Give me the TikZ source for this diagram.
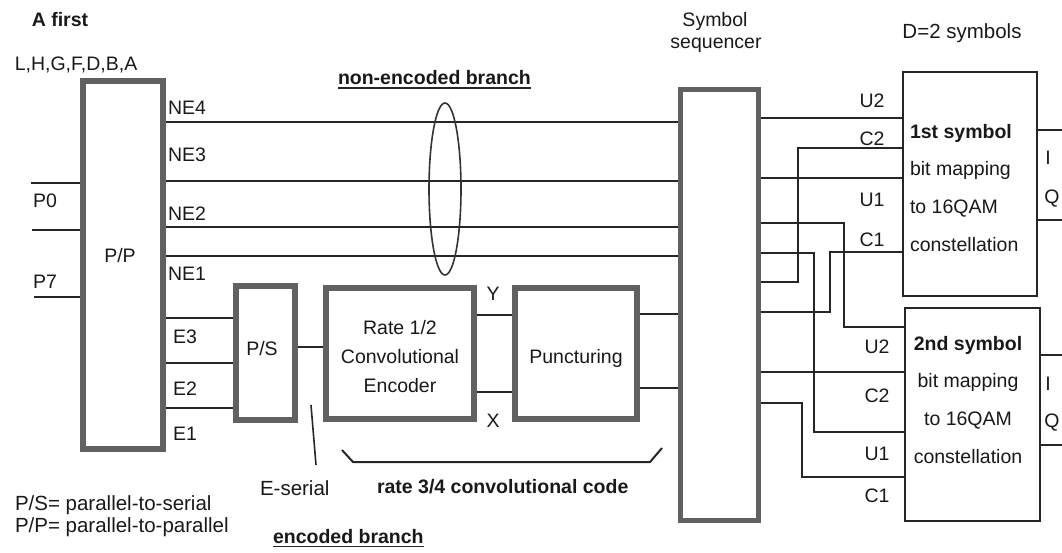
\documentclass[tikz,border=0pt]{standalone}
\usepackage{fontspec}
\setmainfont{Liberation Sans}
\begin{document}
\begin{tikzpicture}[x=1pt,y=-1pt,
  txt/.style={font=\fontsize{19.5}{23}\selectfont, text=black!90, inner sep=0pt, outer sep=0pt},
  btxt/.style={txt, font=\fontsize{19.5}{23}\selectfont\bfseries},
  ltxt/.style={txt, font=\fontsize{20.5}{23}\selectfont},
  thickbox/.style={draw=black!62, line width=6pt, fill=white, inner sep=0pt},
  thinbox/.style={draw=black!85, line width=2pt, fill=white, inner sep=0pt},
  wire/.style={draw=black!85, line width=2pt},
]
\useasboundingbox (0,0) rectangle (1062,553);

% ---------- boxes ----------
\node[thickbox, minimum width=80, minimum height=368] (pp) at (123,265) {};
\node[thickbox, minimum width=59, minimum height=134] (ps) at (265.5,353) {};
\node[thickbox, minimum width=148, minimum height=131] (rate) at (400,353.5) {};
\node[thickbox, minimum width=122, minimum height=131] (punc) at (576,353.5) {};
\node[thickbox, line width=5pt, minimum width=78, minimum height=430] (seq) at (719,305) {};
\node[thinbox, minimum width=134, minimum height=224] (m1) at (970,184) {};
\node[thinbox, minimum width=135, minimum height=213] (m2) at (972.5,414.5) {};

% ---------- free ends ----------
\coordinate (p0) at (31,183);
\coordinate (pm) at (32,230);
\coordinate (p7) at (34,297);
\coordinate (o1i) at (1062,130);
\coordinate (o1q) at (1062,220);
\coordinate (o2i) at (1062,355);
\coordinate (o2q) at (1062,445);

% ---------- wires ----------
\draw[wire] (p0) -- (pp.west |- p0);
\draw[wire] (pm) -- (pp.west |- pm);
\draw[wire] (p7) -- (pp.west |- p7);

\draw[wire] (pp.east |- 0,122) -- (seq.west |- 0,122);
\draw[wire] (pp.east |- 0,181) -- (seq.west |- 0,181);
\draw[wire] (pp.east |- 0,227) -- (seq.west |- 0,227);
\draw[wire] (pp.east |- 0,256) -- (seq.west |- 0,256);

\draw[wire] (pp.east |- 0,318) -- (ps.west |- 0,318);
\draw[wire] (pp.east |- 0,363) -- (ps.west |- 0,363);
\draw[wire] (pp.east |- 0,408) -- (ps.west |- 0,408);

\draw[wire] (ps.east |- 0,347) -- (rate.west |- 0,347);
\draw[wire] (rate.east |- 0,315) -- (punc.west |- 0,315);
\draw[wire] (rate.east |- 0,392) -- (punc.west |- 0,392);
\draw[wire] (punc.east |- 0,314) -- (seq.west |- 0,314);
\draw[wire] (punc.east |- 0,388) -- (seq.west |- 0,388);

% sequencer -> 1st symbol mapper
\draw[wire] (seq.east |- 0,118) -- (m1.west |- 0,118);
\draw[wire] (seq.east |- 0,282) -- (798,282) -- (798,148) -- (m1.west |- 0,148);
\draw[wire] (seq.east |- 0,178) -- (m1.west |- 0,178);
\draw[wire] (seq.east |- 0,312) -- (830,312) -- (830,252) -- (m1.west |- 0,252);
% sequencer -> 2nd symbol mapper
\draw[wire] (seq.east |- 0,223) -- (844,223) -- (844,327) -- (m2.west |- 0,327);
\draw[wire] (seq.east |- 0,372) -- (m2.west |- 0,372);
\draw[wire] (seq.east |- 0,253) -- (814,253) -- (814,432) -- (m2.west |- 0,432);
\draw[wire] (seq.east |- 0,403) -- (802,403) -- (802,477) -- (m2.west |- 0,477);

% outputs
\draw[wire] (m1.east |- o1i) -- (o1i);
\draw[wire] (m1.east |- o1q) -- (o1q);
\draw[wire] (m2.east |- o2i) -- (o2i);
\draw[wire] (m2.east |- o2q) -- (o2q);

% ellipse around the non-encoded lines
\draw[black!80, line width=1.6pt] (445,189) ellipse [x radius=16pt, y radius=86pt];

% bracket under encoder + puncturing
\coordinate (b1) at (342,450);
\coordinate (b2) at (353,462);
\coordinate (b3) at (650,462);
\coordinate (b4) at (662,448);
\draw[wire] (b1) -- (b2) -- (b3) -- (b4);

% E-serial pointer
\coordinate (e1) at (311,405);
\coordinate (e2) at (316,465);
\draw[wire, line width=1.6pt] (e1) -- (e2);

% ---------- texts ----------
\node[btxt, anchor=base] (afirst) at (60,27) {A first};
\node[txt, anchor=base] (letters) at (76,71) {L,H,G,F,D,B,A};
\node[txt, anchor=base west] (ne4) at (168,115) {NE4};
\node[txt, anchor=base west] (ne3) at (168,162) {NE3};
\node[txt, anchor=base west] (ne2) at (168,221) {NE2};
\node[txt, anchor=base west] (ne1) at (168,280) {NE1};
\node[txt, anchor=base west] (e3) at (173,343) {E3};
\node[txt, anchor=base west] (e2l) at (173,395) {E2};
\node[txt, anchor=base west] (e1l) at (173,440) {E1};
\node[txt, anchor=base west] (p0l) at (33,208) {P0};
\node[txt, anchor=base west] (p7l) at (33,288) {P7};
\node[txt, anchor=base] (ppl) at (120,262) {P/P};
\node[txt, anchor=base] (psl) at (262,355) {P/S};
\node[txt, align=center, font=\fontsize{19.5}{29}\selectfont] (ratel) at (400,357) {Rate 1/2\\Convolutional\\Encoder};
\node[txt, anchor=base] (puncl) at (576,363) {Puncturing};
\node[txt, anchor=base] (yl) at (493,300) {Y};
\node[txt, anchor=base] (xl) at (493,427) {X};

\node[btxt, anchor=base west] (nonenc) at (338,85) {non-encoded branch};
\draw[black!85, line width=1.5pt] ([yshift=-3pt]nonenc.base west) -- ([yshift=-3pt]nonenc.base east);
\node[btxt, anchor=base west] (enc) at (273,543) {encoded branch};
\draw[black!85, line width=1.5pt] ([yshift=-3.5pt]enc.base west) -- ([yshift=-3.5pt]enc.base east);

\node[ltxt, anchor=base west] (eserial) at (260,495) {E-serial};
\node[btxt, anchor=base west] (r34) at (377,493) {rate 3/4 convolutional code};
\node[ltxt, anchor=base west] (leg1) at (15,510) {P/S= parallel-to-serial};
\node[ltxt, anchor=base west] (leg2) at (15,532) {P/P= parallel-to-parallel};

\node[txt, anchor=base] (symb) at (715,27) {Symbol};
\node[txt, anchor=base] (seql) at (716,49) {sequencer};
\node[ltxt, anchor=base] (d2) at (962,39) {D=2 symbols};

\node[txt, align=left, anchor=north west, font=\fontsize{19.5}{37.7}\selectfont] (m1t) at (910,124)
  {{\bfseries 1st symbol}\\bit mapping\\to 16QAM\\constellation};
\node[txt, align=center, anchor=north, font=\fontsize{19.5}{37.7}\selectfont] (m2t) at (968,336)
  {{\bfseries 2nd symbol}\\bit mapping\\to 16QAM\\constellation};

\node[txt, anchor=base] (u2a) at (872,108) {U2};
\node[txt, anchor=base] (c2a) at (872,146) {C2};
\node[txt, anchor=base] (u1a) at (872,207) {U1};
\node[txt, anchor=base] (c1a) at (872,247) {C1};
\node[txt, anchor=base] (u2b) at (877,353) {U2};
\node[txt, anchor=base] (c2b) at (877,402) {C2};
\node[txt, anchor=base] (u1b) at (877,460) {U1};
\node[txt, anchor=base] (c1b) at (877,502) {C1};

\node[txt, anchor=base] (i1) at (1048,165) {I};
\node[txt, anchor=base] (q1) at (1052,204) {Q};
\node[txt, anchor=base] (i2) at (1048,390) {I};
\node[txt, anchor=base] (q2) at (1052,427) {Q};
\end{tikzpicture}
\end{document}
